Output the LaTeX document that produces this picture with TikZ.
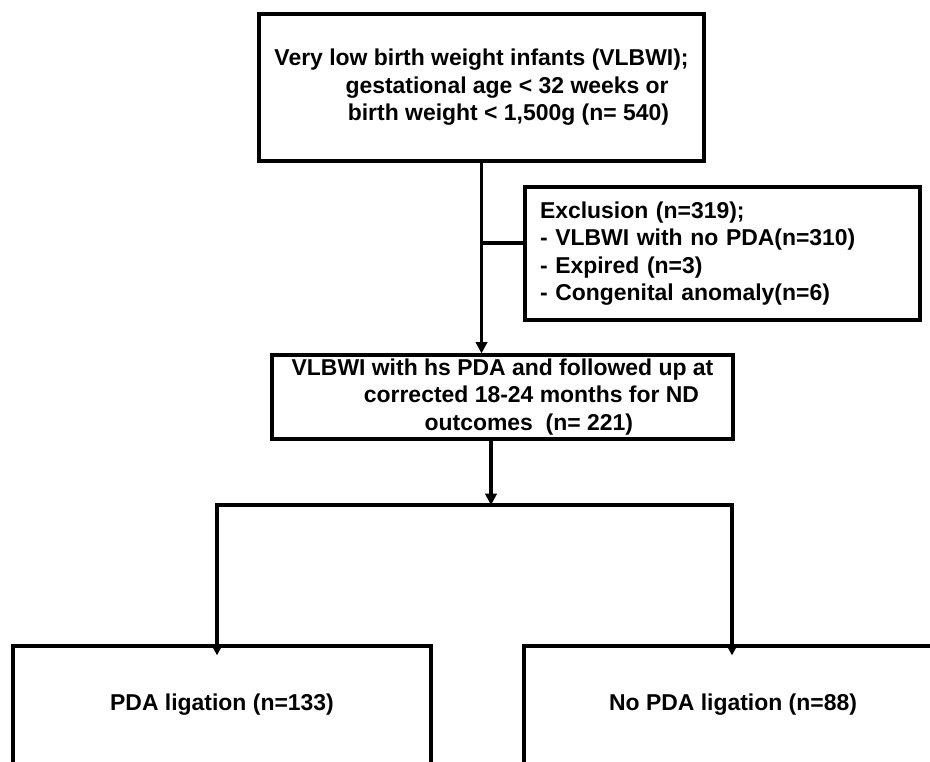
\documentclass[tikz,border=0pt]{standalone}
\usepackage{fontspec}
\setmainfont{Liberation Sans}
\usetikzlibrary{arrows.meta,calc}

\begin{document}
\begin{tikzpicture}[
	x = 0.75pt, y = -0.75pt,
	flowbox/.style = {draw, rectangle, line width = 2.4pt, inner sep = 3pt,
		font = \fontsize{17.2}{20.6}\selectfont\bfseries},
	link/.style = {line width = 2.3pt},
	linkarrow/.style = {link, -{Triangle[length = 8.5pt, width = 8.5pt]}}
]

\useasboundingbox (0, 0) rectangle (930, 761);
\clip (0, 0) rectangle (930, 761);
\fill[white] (0, 0) rectangle (930, 761);

% boxes
\node[flowbox, minimum width = 333.75pt, minimum height = 110.25pt, align = left] (vlbwi) at (481.5, 87.5)
	{Very low birth weight infants (VLBWI);\\
	\hspace*{3.1em}gestational age < 32 weeks or\\
	\hspace*{3.2em}birth weight < 1,500g (n= 540)};

\node[flowbox, minimum width = 296.25pt, minimum height = 99.75pt, text width = 273.75pt,
	inner xsep = 11.25pt, align = left] (excl) at (722.5, 253.5)
	{Exclusion (n=319);\\
	- VLBWI with no PDA(n=310)\\
	- Expired (n=3)\\
	- Congenital anomaly(n=6)};

\node[flowbox, minimum width = 345.75pt, minimum height = 63pt, inner sep = 1pt, align = left] (hspda) at (502.5, 397)
	{VLBWI with hs PDA and followed up at\\
	\hspace*{3.15em}corrected 18-24 months for ND\\
	\hspace*{5.8em}outcomes\ \ (n= 221)};

\node[flowbox, minimum width = 313.5pt, minimum height = 88.5pt] (lig) at (222, 705) {PDA ligation (n=133)};
\node[flowbox, minimum width = 313.5pt, minimum height = 88.5pt] (nolig) at (733, 705) {No PDA ligation (n=88)};

% connectors
\coordinate (excljoin) at (481.5, 243);
\coordinate (split) at (491, 505);
\coordinate (splitL) at (217, 505);
\coordinate (splitR) at (732, 505);

\draw[linkarrow] (vlbwi.south) -- (vlbwi.south |- hspda.north);
\draw[link] (excljoin) -- (excljoin -| excl.west);
\draw[linkarrow] (split |- hspda.south) -- (split);
\draw[link, line cap = rect] (splitL) -- (splitR);
\draw[linkarrow] (splitL) -- ($(splitL |- lig.north) + (0, 11)$);
\draw[linkarrow] (splitR) -- ($(splitR |- nolig.north) + (0, 11)$);
\end{tikzpicture}
\end{document}
